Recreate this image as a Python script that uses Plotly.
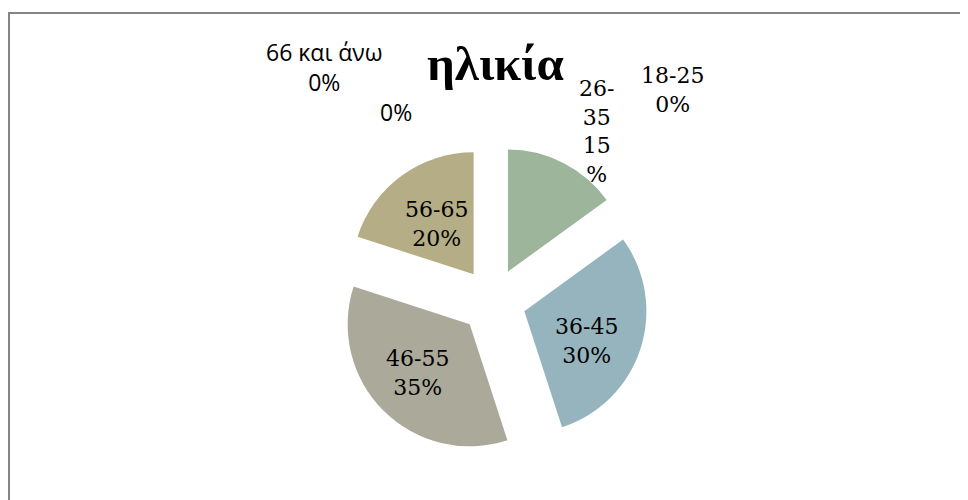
import plotly.graph_objects as go

# ---- data ----
categories = ["18-25", "26-35", "36-45", "46-55", "56-65", "66 και άνω", " "]
values = [0, 15, 30, 35, 20, 0, 0]
colors = ["#9fb59b", "#9cb59b", "#95b4be", "#aba999", "#b5ad85", "#b5ad85", "#b5ad85"]
title_text = "ηλικία"

total = sum(values)
pcts = [round(v * 100 / total) for v in values]

# page body has an 8px margin, so the figure is drawn 8px in from the window corner
OFF = 8
W, H = 968 - OFF, 500 - OFF
SERIF = "DejaVu Serif"
SANS = "Open Sans"


def px(x):
    return (x - OFF) / W


def py(y):
    return 1 - (y - OFF) / H


cx, cy, half = 493, 301, 155
fig = go.Figure(go.Pie(
    labels=categories,
    values=values,
    sort=False,
    direction="clockwise",
    rotation=0,
    pull=[0.27] * len(values),
    marker=dict(colors=colors, line=dict(width=0)),
    textinfo="none",
    showlegend=False,
    hoverinfo="label+percent",
    domain=dict(x=[px(cx - half), px(cx + half)], y=[py(cy + half), py(cy - half)]),
))

annotations = []
annotations.append(dict(text=f"<b>{title_text}</b>", x=px(495), y=py(63), xref="paper", yref="paper",
                        showarrow=False, font=dict(family="Liberation Serif", size=49, color="black"),
                        xanchor="center", yanchor="middle"))


def add_label(x, y, text, fam=SERIF, size=22):
    annotations.append(dict(text=text, x=px(x), y=py(y), xref="paper", yref="paper", showarrow=False,
                            font=dict(family=fam, size=size, color="black"), align="center",
                            xanchor="center", yanchor="middle"))


# slice labels: "category<br>percent"
add_label(672, 90, f"{categories[0]}<br>{pcts[0]}%")
c1 = categories[1].split("-")
add_label(596, 131, f"{c1[0]}-<br>{c1[1]}<br>{pcts[1]}<br>%")
add_label(586, 341, f"{categories[2]}<br>{pcts[2]}%")
add_label(417, 373, f"{categories[3]}<br>{pcts[3]}%")
add_label(436, 224, f"{categories[4]}<br>{pcts[4]}%")
add_label(324, 67, f"{categories[5]}<br>{pcts[5]}%", fam=SANS, size=23)
add_label(396, 112, f"{pcts[6]}%", fam=SANS, size=23)

fig.update_layout(
    width=W, height=H,
    margin=dict(l=0, r=0, t=0, b=0),
    paper_bgcolor="white",
    plot_bgcolor="white",
    annotations=annotations,
    shapes=[dict(type="rect", xref="paper", yref="paper", x0=1 / W, x1=1.05, y0=-0.05, y1=py(13),
                 line=dict(color="#858585", width=2), fillcolor="rgba(0,0,0,0)", layer="below")],
)

fig.write_html("out.html")
